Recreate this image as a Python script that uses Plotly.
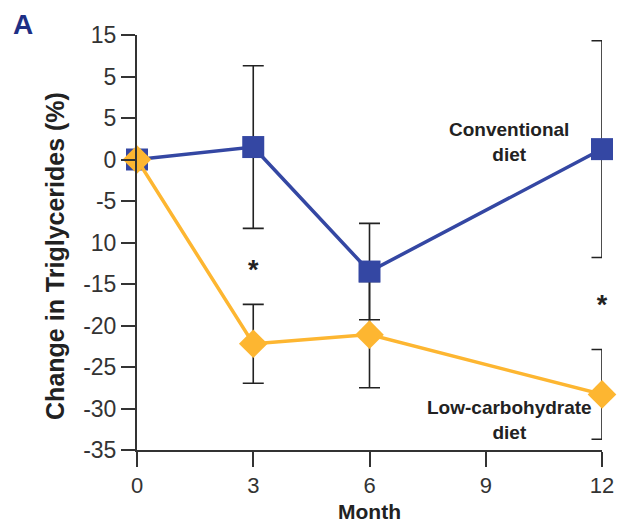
import plotly.graph_objects as go

# Months of follow-up
months = [0, 3, 6, 9, 12]
obs_months = [0, 3, 6, 12]

# Percent change in triglycerides (mean) and error half-widths
conventional = [0, 1.5, -13.5, 1.25]
conventional_err = [0, 9.8, 5.8, 13.05]
lowcarb = [0, -22.2, -21.1, -28.3]
lowcarb_err_plus = [0, 4.75, 6.4, 5.4]
lowcarb_err_minus = [0, 4.75, 6.4, 5.4]

# Significance markers
star_months = [3, 12]
star_values = [-13.6, -17.8]

# Y tick positions and their printed labels
ytick_vals = [15, 10, 5, 0, -5, -10, -15, -20, -25, -30, -35]
ytick_text = ["15", "5", "5", "0", "-5", "10", "-15", "-20", "-25", "-30", "-35"]

BLUE = "#3447A3"
ORANGE = "#FDB631"
INK = "#222222"
FONT = "Liberation Sans, Arial, sans-serif"

fig = go.Figure()

# Low-carbohydrate error bars underneath everything else
fig.add_trace(go.Scatter(
    x=obs_months, y=lowcarb, mode="markers", cliponaxis=False,
    marker=dict(color="rgba(0,0,0,0)", size=1),
    error_y=dict(type="data", array=lowcarb_err_plus, arrayminus=lowcarb_err_minus,
                 color=INK, thickness=1.6, width=10.5),
    hoverinfo="skip", showlegend=False,
))

# Conventional diet
fig.add_trace(go.Scatter(
    x=obs_months, y=conventional, mode="lines+markers", cliponaxis=False,
    line=dict(color=BLUE, width=3.5),
    marker=dict(symbol="square", size=22, color=BLUE),
    error_y=dict(type="data", array=conventional_err, color=INK, thickness=1.6, width=10.5),
    showlegend=False,
))

# Low-carbohydrate diet
fig.add_trace(go.Scatter(
    x=obs_months, y=lowcarb, mode="lines+markers", cliponaxis=False,
    line=dict(color=ORANGE, width=3.5),
    marker=dict(symbol="diamond", size=22, color=ORANGE),
    showlegend=False,
))

# Asterisks
fig.add_trace(go.Scatter(
    x=star_months, y=star_values, mode="text", text=["<b>*</b>", "<b>*</b>"],
    textfont=dict(family=FONT, size=27, color=INK), cliponaxis=False,
    textposition="middle center", showlegend=False, hoverinfo="skip",
))

fig.update_layout(
    width=633, height=523,
    margin=dict(l=137, r=31, t=35, b=73),
    paper_bgcolor="white", plot_bgcolor="white",
    font=dict(family=FONT, color=INK),
    xaxis=dict(
        range=[0, 12], tickvals=months, ticks="outside", ticklen=15, tickwidth=2,
        tickcolor="#333", showline=True, linecolor="#333", linewidth=2,
        showgrid=False, zeroline=False, tickfont=dict(size=22, color="#333"),
        fixedrange=True,
    ),
    yaxis=dict(
        range=[-35, 15], tickvals=ytick_vals, ticktext=ytick_text,
        ticks="outside", ticklen=14, tickwidth=2, tickcolor="#333",
        showline=True, linecolor="#333", linewidth=2, showgrid=False,
        zeroline=False, tickfont=dict(size=23, color="#333"), fixedrange=True,
    ),
    annotations=[
        dict(text="<b>A</b>", xref="paper", yref="paper", x=-0.245, y=1.026,
             showarrow=False, font=dict(size=28, color="#1E2F85"),
             xanchor="center", yanchor="middle"),
        dict(text="<b>Change in Triglycerides (%)</b>", xref="paper", yref="paper",
             x=-0.176, y=0.468, textangle=-90, showarrow=False,
             font=dict(size=25, color=INK), xanchor="center", yanchor="middle"),
        dict(text="<b>Month</b>", xref="x", yref="paper", x=6, y=-0.147,
             showarrow=False, font=dict(size=21, color=INK),
             xanchor="center", yanchor="middle"),
        dict(text="<b>Conventional<br>diet</b>", xref="x", yref="y", x=9.6, y=2.1,
             showarrow=False, font=dict(size=19, color=INK), align="center"),
        dict(text="<b>Low-carbohydrate<br>diet</b>", xref="x", yref="y", x=9.6, y=-31.4,
             showarrow=False, font=dict(size=19, color=INK), align="center"),
    ],
)

fig.write_html("out.html")
